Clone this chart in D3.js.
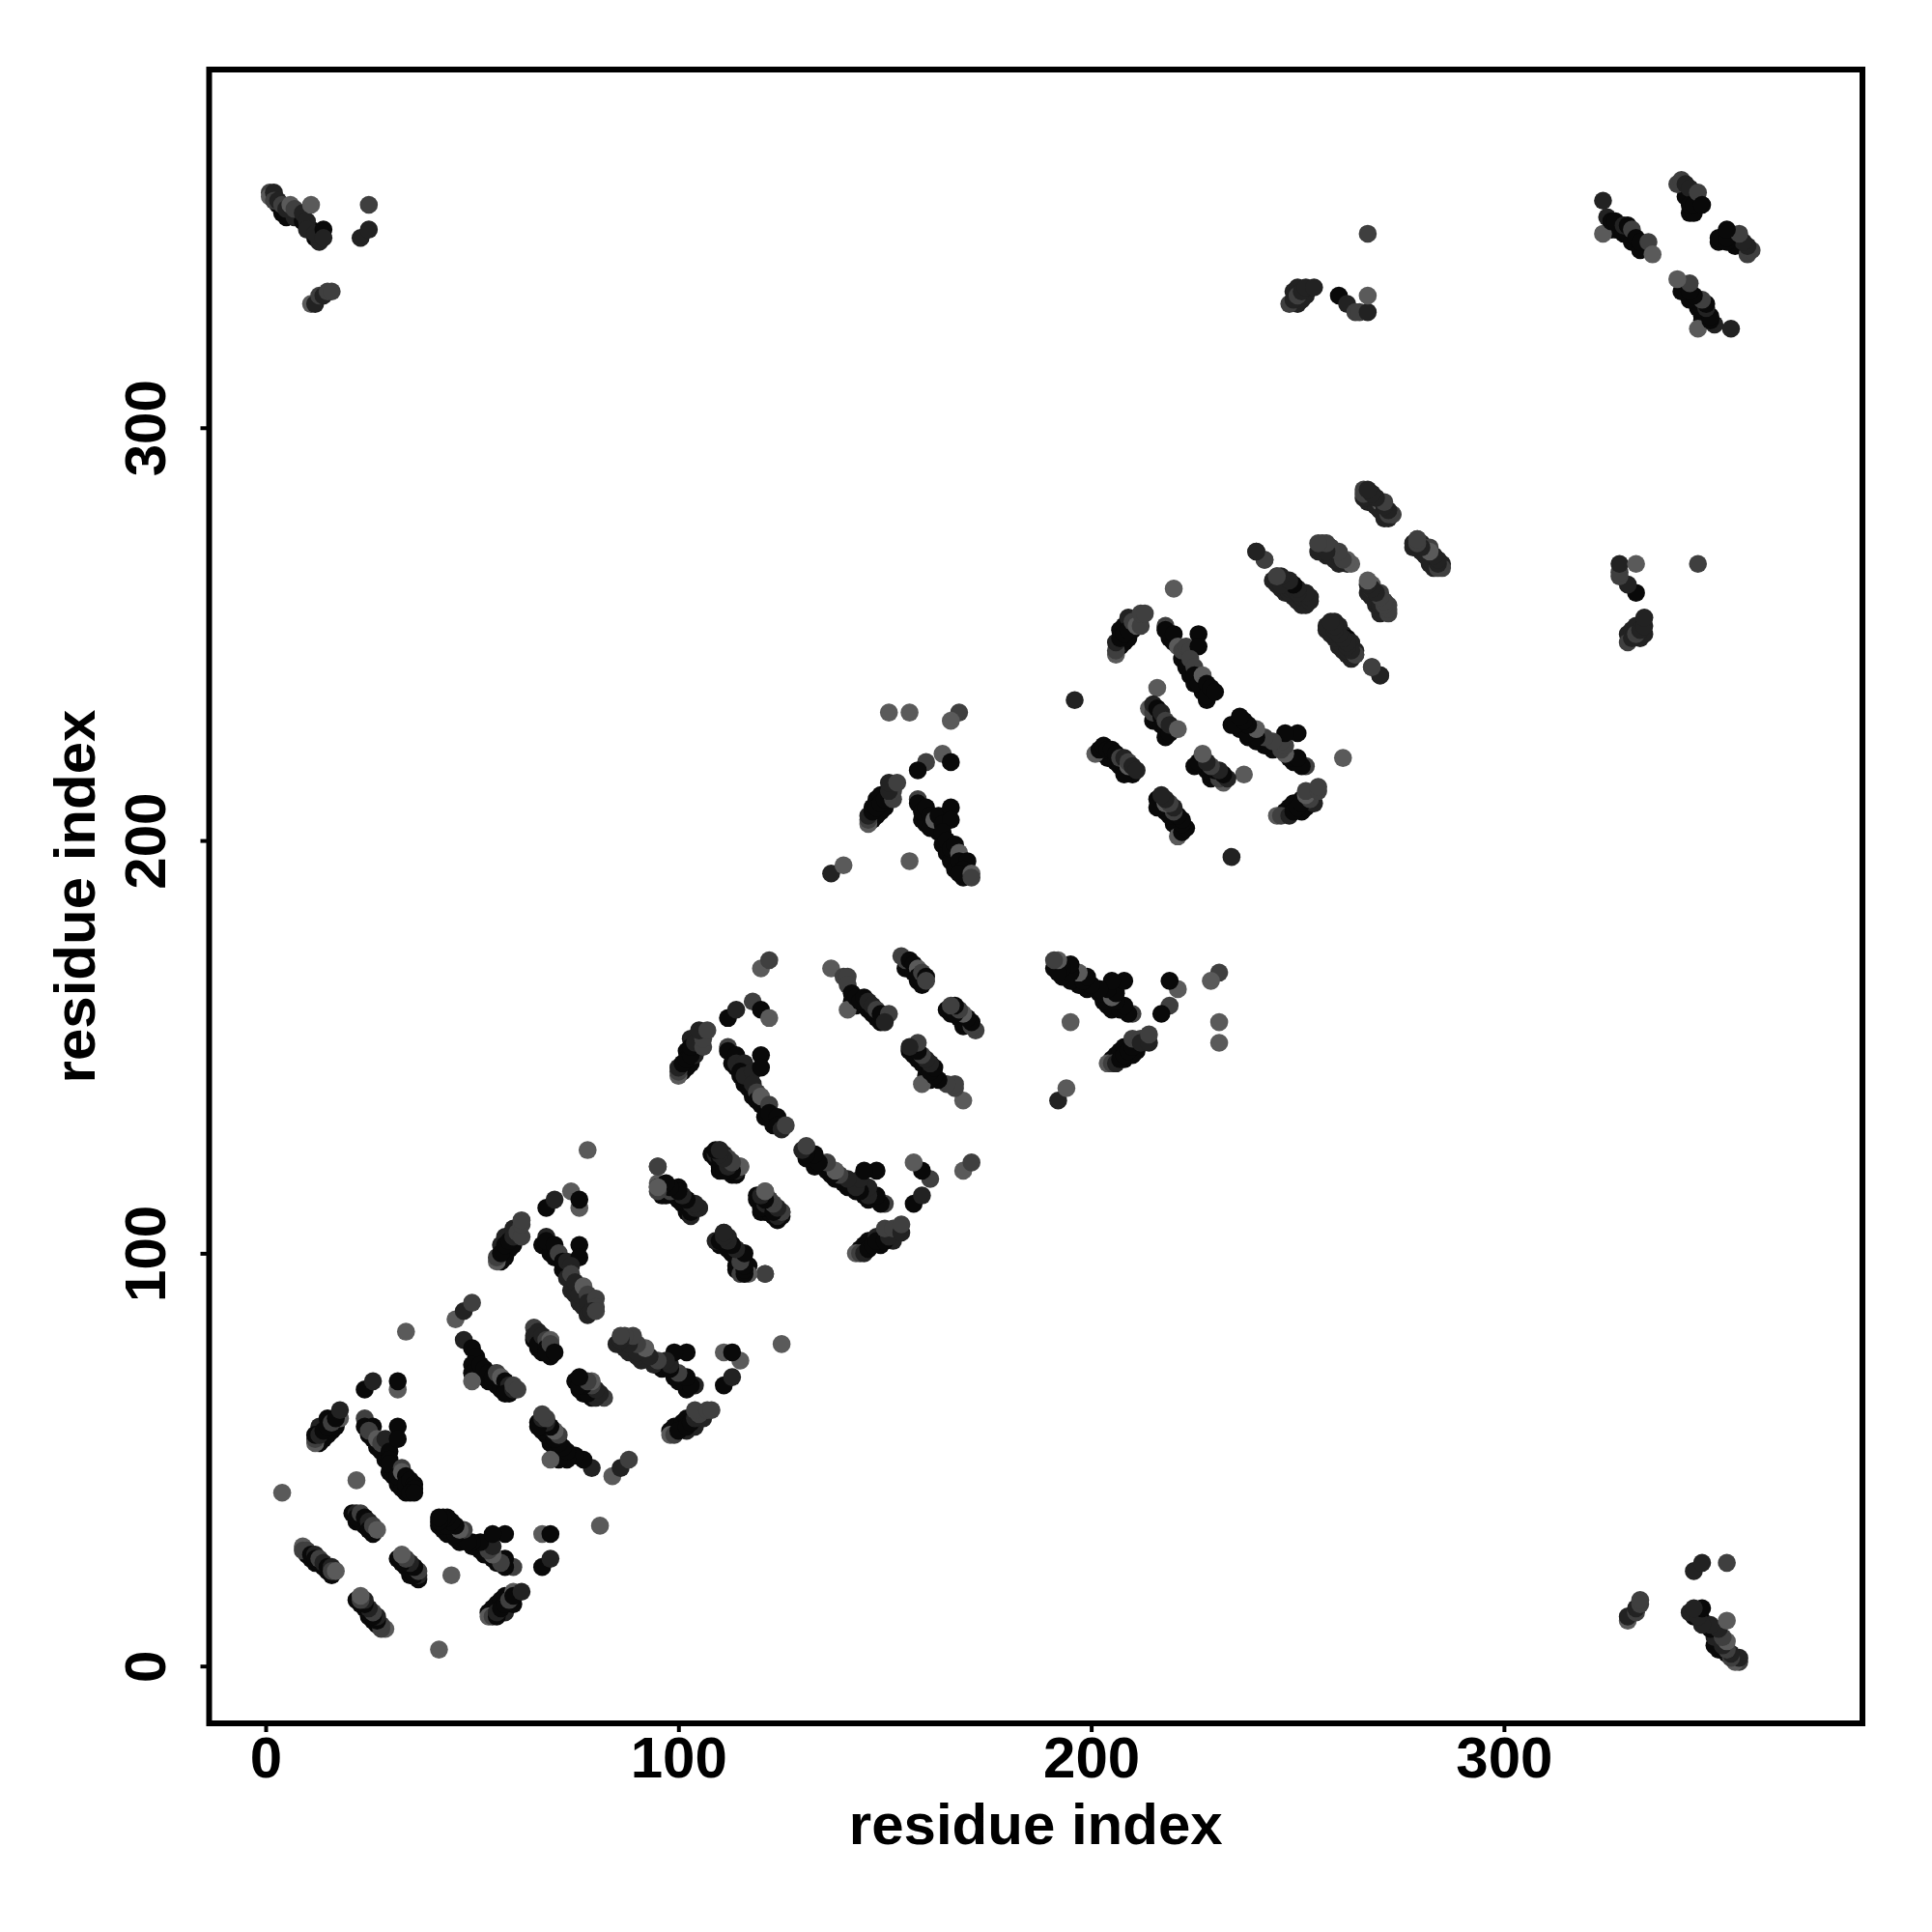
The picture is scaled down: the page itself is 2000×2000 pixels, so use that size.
<!DOCTYPE html>
<html><head><meta charset="utf-8"><style>html,body{margin:0;background:#fff}svg{display:block}</style>
<script src="https://cdn.jsdelivr.net/npm/d3@7"></script></head><body><svg id="c" width="2000" height="2000"></svg>
<script>
const tickValues=[0,100,200,300];
const axisTitle="residue index";
const shades=["#5a5a5a","#3f3f3f","#222222","#090909"];
// [residue i, residue j, shade level]; the map is symmetric, each pair is drawn at (i,j) and (j,i)
const contactsUnderlay=[[3,354,3],[4,352,3],[5,351,3],[7,351,2],[9,350,3],[11,348,3],[12,346,3],[13,345,2],
[10,27,3],[11,26,3],[12,25,3],[13,25,3],[14,24,3],[15,23,3],[16,22,3],[22,35,3],[23,35,3],[24,34,3],[25,33,3],[26,32,3],
[13,54,3],[14,55,3],[13,58,2],[15,56,3],[16,57,3],[17,58,3],[15,60,3],
[25,56,3],[26,55,3],[27,53,3],[28,52,3],[29,50,3],[30,47,3],[31,46,3],[32,44,3],[33,43,3],[34,42,3],[34,43,3],
[52,71,3],[53,70,3],[54,69,3],[55,69,3],[56,68,3],[57,67,3],[58,67,3],[59,66,3],[65,79,3],[66,77,3],[67,77,3],[67,76,3],[69,75,3],
[57,98,3],[58,99,3],[59,101,3],[60,102,3],[57,102,2],[58,104,2],[60,106,2],
[67,102,3],[69,100,3],[70,99,3],[72,96,3],[73,94,2],[74,91,2],[75,90,2],[76,88,2],[77,87,2],[78,85,2],
[96,115,3],[97,114,3],[99,114,3],[100,113,3],[101,112,3],[102,110,3],[103,109,2],[110,122,3],[111,121,3],[112,120,3],[113,119,3],
[111,103,3],[112,102,3],[113,100,3],[114,99,3],[115,97,3],[114,96,3],[120,110,3],[121,110,3],[122,110,3],[123,109,3],[124,108,3],
[101,144,3],[102,145,3],[103,146,3],[104,148,2],[102,149,3],[103,152,2],[105,150,2],
[113,146,3],[114,145,3],[115,143,3],[116,141,3],[117,140,3],[118,138,3],[120,136,3],[121,133,3],[123,131,3],
[142,161,3],[143,160,3],[145,160,3],[146,159,3],[147,158,3],[148,157,3],[149,156,3],[155,169,3],[156,169,3],[157,168,3],[158,166,3],[159,165,3],
[147,205,3],[148,206,3],[149,207,3],[147,208,3],[148,210,3],[150,208,3],[149,211,3],
[159,205,3],[160,204,3],[161,203,3],[163,202,3],[164,199,3],[165,197,3],[166,195,3],[167,193,3],[169,191,3],
[203,221,3],[204,220,3],[205,220,3],[206,219,3],[207,218,3],[208,217,3],[210,216,3],[215,229,3],[216,229,3],[217,228,3],[218,227,3],[218,225,3],
[207,247,3],[208,248,3],[209,249,3],[207,251,3],[208,252,3],[210,251,3],[209,254,2],
[219,249,3],[220,248,3],[222,244,3],[223,242,3],[224,240,3],[225,238,3],[227,236,3],[228,234,3],
[246,261,2],[247,260,2],[248,260,2],[249,259,2],[250,258,2],[251,257,2],[252,257,2],[257,269,2],[258,269,2],[259,268,2],[260,267,2],
[259,251,2],[260,248,2],[261,248,2],[262,245,2],[263,244,2],[267,282,2],[268,282,2],[269,281,2],[270,280,2],[271,278,2],[272,278,2],
[268,259,2],[269,258,2],[270,255,2],[280,270,2],[281,269,2],[283,267,2],[283,266,2],
[250,330,2],[251,331,2],[249,333,2],[252,332,2],[250,334,2],[326,348,3],[327,348,3],[329,347,3],[330,347,3],[331,345,3],[333,343,3],[344,356,3],[345,352,3],[346,352,3]];
const contactsNTerminal=[[1,357,1],[1,356,0],[2,357,2],[2,355,1],[3,355,2],[4,354,1],[5,353,2],[6,354,0],[7,353,1],[9,352,2],[10,350,2],[11,354,0],[10,348,2],[12,347,2],[14,348,3],[14,346,2],[23,346,2],[25,348,2],[25,354,1],[11,330,0],[12,330,2],[13,332,1],[14,332,2],[15,333,1],[16,333,1],
[4,42,0],[22,45,0],[34,81,0],[24,67,3],[26,69,2],[32,67,0],[32,69,3],[46,84,0],[48,86,2],[50,88,1],
[9,29,0],[9,28,1],[10,28,1],[11,27,3],[12,27,2],[12,26,3],[13,26,1],[14,25,2],[15,24,3],[16,24,2],[16,23,1],[17,23,0],
[21,37,3],[22,37,2],[22,36,3],[23,37,1],[24,36,3],[25,35,2],[25,33,3],[26,34,1],[27,33,0],
[12,54,0],[12,55,1],[12,56,3],[13,56,2],[14,57,3],[15,58,3],[16,59,1],[18,60,0],[17,60,3],[18,62,2],
[24,60,1],[24,58,3],[26,58,3],[25,57,1],[27,55,0],[28,54,1],[29,55,2],[30,52,3],[32,58,3],[32,55,3],[30,50,3],[31,48,3],[30,49,3],[33,48,1],[32,46,3],[33,47,0],[34,46,3],[34,44,3],[35,45,3],[36,44,3],[36,43,3],[35,42,3],[36,42,3]];
const contactsStrandA=[[48,79,2],[50,77,3],[51,75,3],[50,73,3],[50,71,3],[50,69,0],[52,73,3],[53,72,3],[54,71,3],[55,70,3],[56,71,1],[57,70,0],[58,69,3],[59,68,2],[58,66,3],[60,67,2],[60,68,1],[61,67,1],
[65,82,1],[65,80,2],[66,81,2],[66,78,3],[67,80,2],[68,79,1],[68,77,3],[68,76,3],[69,79,0],[69,78,1],[70,76,3],
[56,98,0],[56,99,1],[57,100,3],[58,102,3],[59,103,3],[60,104,2],[61,105,1],[62,104,1],[62,107,1],[62,108,1],
[68,111,3],[70,113,2],[74,115,0],[76,111,0],[76,113,3],[78,125,0],
[68,104,2],[68,103,3],[70,102,3],[71,100,1],[72,98,3],[73,98,2],[76,102,3],[76,99,3],[74,97,2],[74,95,1],[75,93,2],[76,90,2],[77,92,0],[78,90,1],[78,88,2],[80,89,1],[80,87,1],[79,86,2],[80,86,1],
[95,121,1],[95,117,0],[95,116,3],[96,116,3],[97,116,3],[98,115,1],[100,116,3],[101,114,2],[102,113,3],[103,110,3],[103,112,2],[104,111,2],[105,111,2],
[109,124,2],[110,125,1],[110,123,3],[111,124,2],[112,123,1],[113,122,1],[113,121,3],[114,119,3],[114,120,2],[115,121,0],
[111,105,2],[112,104,2],[113,102,3],[114,101,2],[115,100,3],[116,98,3],[116,96,3],[117,97,3],[115,95,1],[116,95,0],[121,95,1],
[121,115,0],[120,113,3],[120,111,3],[121,112,2],[122,113,1],[123,111,2],[124,110,2],[125,109,3],[125,110,2]];
const contactsStrandB=[[100,143,0],[100,144,1],[100,145,2],[101,146,3],[102,147,3],[103,148,3],[103,150,3],[104,151,2],[106,150,1],[106,152,1],[105,154,2],[107,154,1],
[112,157,3],[114,159,2],[118,161,1],[120,159,3],[122,157,0],[120,169,0],[122,171,1],
[112,150,1],[112,149,3],[114,148,3],[114,146,2],[116,146,2],[115,144,3],[117,143,0],[116,143,2],[118,144,2],[120,148,3],[120,145,3],[118,141,2],[119,139,1],[119,137,3],[120,138,0],[122,136,1],[122,134,3],[124,133,3],[124,131,3],[125,130,2],[126,131,1],
[137,169,0],[140,167,1],[141,167,1],[141,165,1],[141,159,0],[142,163,3],[143,162,3],[144,161,3],[145,162,3],[146,161,2],[147,160,2],[148,159,1],[149,158,3],[151,158,1],[150,156,2],
[154,172,1],[155,171,1],[156,171,3],[157,170,3],[158,169,0],[158,167,3],[159,168,1],[160,167,3],[160,166,1],
[146,204,0],[146,205,1],[146,206,2],[147,207,3],[148,208,3],[149,209,3],[150,210,3],[152,210,1],[152,212,1],[151,212,2],[151,214,2],[153,214,1],
[151,231,0],[156,231,0],[168,231,1],[166,229,0],[164,221,0],[166,219,3],[160,219,1],[158,217,3],[137,192,2],[140,194,0],[156,195,0],[196,234,2],[216,237,0],[220,261,0],
[158,210,1],[158,209,3],[159,207,3],[160,208,3],[161,206,3],[162,205,0],[163,206,3],[164,204,3],[166,208,3],[166,205,3],[164,202,3],[165,200,3],[166,198,3],[167,199,3],[168,197,0],[168,195,3],[170,195,3],[169,193,3],[168,192,3],[171,192,0],[171,191,1]];
const contactsCTerminal=[[201,221,0],[202,222,3],[203,223,3],[204,222,3],[205,222,3],[206,221,3],[207,220,1],[208,216,3],[208,220,2],[209,218,0],[209,219,1],[210,218,2],[211,217,2],
[214,232,0],[215,231,1],[215,233,2],[216,232,3],[217,230,3],[217,231,2],[218,229,1],[219,226,3],[219,228,2],[221,227,0],
[206,245,0],[206,246,1],[206,248,2],[207,249,3],[208,250,3],[209,251,3],[210,253,1],[211,252,0],[212,252,1],[212,255,1],[213,255,1],
[218,252,1],[218,251,3],[220,250,3],[221,247,0],[222,246,1],[223,247,1],[224,246,1],[226,250,3],[226,247,3],[224,244,1],[225,242,1],[225,240,3],[226,238,3],[227,240,0],[228,238,3],[228,235,3],[229,237,3],[230,236,3],
[240,270,2],[242,268,1],[245,264,1],[246,263,2],[247,262,2],[248,262,2],[249,261,2],[250,260,2],[251,259,2],[252,259,2],[253,258,2],
[256,272,1],[257,271,1],[258,271,1],[259,270,1],[260,269,2],[261,268,2],[262,267,2],[263,267,0],
[259,253,2],[260,252,2],[260,250,2],[261,250,2],[262,249,3],[262,246,2],[263,248,2],[264,246,2],[264,245,1],[268,242,1],[270,240,2],
[266,285,1],[267,284,2],[268,284,2],[269,283,2],[270,282,0],[271,280,2],[272,279,1],[273,279,1],
[268,262,0],[268,261,1],[270,260,1],[271,258,1],[270,257,2],[272,257,1],[272,255,1],
[279,273,1],[280,272,2],[281,271,2],[282,271,1],[283,269,2],[284,266,1],[284,268,2],[285,267,2],
[248,330,1],[249,331,2],[250,332,1],[251,333,2],[252,334,2],[254,334,2],[260,332,3],[262,330,2],[264,328,1],[265,328,1],[267,328,2],[267,332,0],[267,347,1],
[324,355,2],[324,347,0],[325,351,2],[326,350,3],[327,350,3],[329,349,2],[330,349,3],[331,348,1],[332,346,3],[333,345,3],[335,345,1],[336,342,0],
[342,359,1],[343,360,1],[344,359,2],[345,358,2],[345,354,3],[346,354,3],[347,357,1],[348,354,3]];
const contacts=[...contactsUnderlay,...contactsNTerminal,...contactsStrandA,...contactsStrandB,...contactsCTerminal];

const L=216.5,R=1928,T=72,B=1784;
const x=d3.scaleLinear().domain([-13.69,386.85]).range([L,R]);
const y=d3.scaleLinear().domain([-13.88,386.77]).range([B,T]);
const svg=d3.select("#c");
const font="'Liberation Sans',Arial,sans-serif";
const upper=contacts.map(c=>({a:c[0],b:c[1],s:c[2]}));
const lower=contacts.map(c=>({a:c[1],b:c[0],s:c[2]}));
const points=[...contactsUnderlay.map(c=>({a:c[0],b:c[1],s:c[2]})),...contactsUnderlay.map(c=>({a:c[1],b:c[0],s:c[2]})),...upper.slice(contactsUnderlay.length),...lower.slice(contactsUnderlay.length)];
svg.append("g").selectAll("circle").data(points).join("circle")
  .attr("cx",d=>x(d.a)).attr("cy",d=>y(d.b)).attr("r",9.3).attr("fill",d=>shades[d.s]);
svg.append("rect").attr("x",L).attr("y",T).attr("width",R-L).attr("height",B-T).attr("fill","none").attr("stroke","#000").attr("stroke-width",6);
const gx=svg.append("g").attr("transform",`translate(0,${B})`).call(d3.axisBottom(x).tickValues(tickValues).tickSize(9).tickPadding(4).tickFormat(d3.format("d")));
const gy=svg.append("g").attr("transform",`translate(${L},0)`).call(d3.axisLeft(y).tickValues(tickValues).tickSize(9).tickFormat(d3.format("d")));
[gx,gy].forEach(g=>{g.select(".domain").remove();g.selectAll("line").attr("stroke","#000").attr("stroke-width",4);
  g.selectAll("text").attr("font-family",font).attr("font-weight","bold").attr("font-size",60).attr("fill","#000");});
gx.selectAll("text").attr("y",null).attr("dy",null).attr("transform",null).attr("y",56);
gy.selectAll("text").attr("x",null).attr("dy",null).attr("text-anchor","middle")
  .attr("transform",function(){return `translate(${171-L},0) rotate(-90)`;});
svg.append("text").attr("x",(L+R)/2).attr("y",1909).attr("text-anchor","middle").attr("font-family",font).attr("font-weight","bold").attr("font-size",60).text(axisTitle);
svg.append("text").attr("transform",`translate(98,${(T+B)/2}) rotate(-90)`).attr("text-anchor","middle").attr("font-family",font).attr("font-weight","bold").attr("font-size",60).text(axisTitle);
</script></body></html>
